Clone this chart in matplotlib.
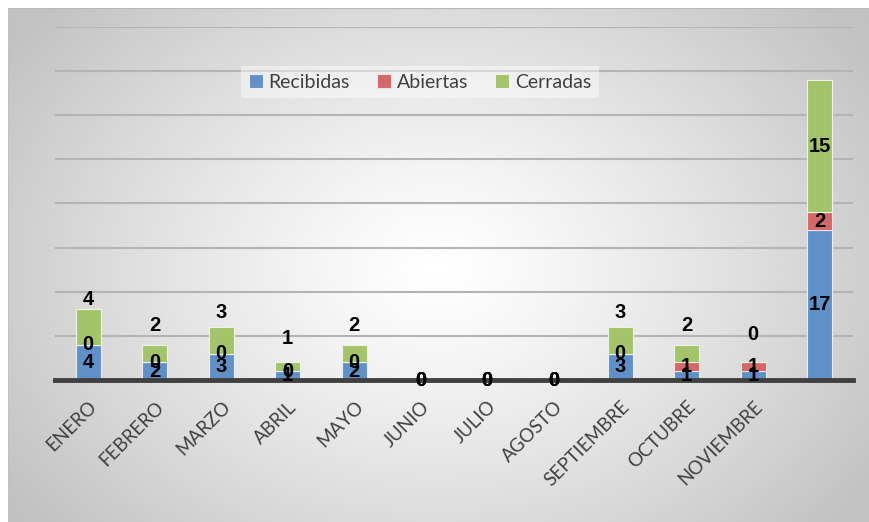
import numpy as np
import matplotlib
matplotlib.use("Agg")
import matplotlib.pyplot as plt

plt.rcParams['font.family'] = ['Lato', 'DejaVu Sans']

# data
meses = ["ENERO", "FEBRERO", "MARZO", "ABRIL", "MAYO", "JUNIO", "JULIO",
         "AGOSTO", "SEPTIEMBRE", "OCTUBRE", "NOVIEMBRE", ""]
recibidas = [4, 2, 3, 1, 2, 0, 0, 0, 3, 1, 1, 17]
abiertas = [0, 0, 0, 0, 0, 0, 0, 0, 0, 1, 1, 2]
cerradas = [4, 2, 3, 1, 2, 0, 0, 0, 3, 2, 0, 15]

colors = {"Recibidas": "#6090c8", "Abiertas": "#d26868", "Cerradas": "#a4c46c"}
W, H = 870, 522

fig = plt.figure(figsize=(W / 100, H / 100), dpi=100)
fig.patch.set_facecolor("white")

# radial gray background of the chart area
bg = fig.add_axes([8 / W, 0, (W - 8) / W, (H - 8) / H], zorder=-5)
gx, gy = np.meshgrid(np.linspace(0, W - 8, 400), np.linspace(0, H - 8, 240))
r = np.sqrt((gx - 430) ** 2 + ((gy - 260) * 1.3) ** 2) / 520
shade = 1.0 - 0.24 * np.clip(r, 0, 1) ** 1.2
bg.imshow(shade, cmap="gray", vmin=0, vmax=1, aspect="auto", extent=[0, 1, 0, 1],
          interpolation="bicubic")
bg.plot([0, 1], [1, 1], color="#b8b8b8", lw=1.5, transform=bg.transAxes)
bg.plot([0, 0], [0, 1], color="#c0c0c0", lw=1.2, transform=bg.transAxes)
bg.set_xlim(0, 1)
bg.set_ylim(0, 1)
bg.axis("off")

ax = fig.add_axes([55 / W, 1 - 380 / H, (853 - 55) / W, (380 - 27) / H])
ax.set_facecolor("none")
x = np.arange(len(meses))
width = 0.38

rec = np.array(recibidas)
abi = np.array(abiertas)
cer = np.array(cerradas)
ax.bar(x, rec, width, color=colors["Recibidas"], edgecolor="#e8eef6", lw=0.8, label="Recibidas", zorder=3)
ax.bar(x, abi, width, bottom=rec, color=colors["Abiertas"], edgecolor="#f2e0e0", lw=0.8, label="Abiertas", zorder=3)
ax.bar(x, cer, width, bottom=rec + abi, color=colors["Cerradas"], edgecolor="#eef4e4", lw=0.8, label="Cerradas", zorder=3)

lab = dict(fontsize=14.5, fontweight="bold", family="Liberation Sans", color="black",
           ha="center", va="center", zorder=5)
for i in x:
    ax.text(i, rec[i] / 2, str(rec[i]), **lab)
    ax.text(i, rec[i] + abi[i] / 2, str(abi[i]), **lab)
    yc = rec[i] + abi[i] + cer[i] / 2
    total = rec[i] + abi[i] + cer[i]
    off = 20 if (total > 0 and cer[i] < 10) else 0
    ax.annotate(str(cer[i]), (i, yc), xytext=(0, off), textcoords="offset points", **lab)

ax.set_xlim(-0.5, len(meses) - 0.5)
ax.set_ylim(0, 40)
ax.set_yticks(np.arange(5, 41, 5))
ax.yaxis.grid(True, color="#b4b4b4", lw=1.5, zorder=0)
ax.tick_params(axis="y", length=0, labelleft=False)
ax.tick_params(axis="x", length=0, pad=13)
ax.set_xticks(x)
ax.set_xticklabels(meses, rotation=45, ha="right", rotation_mode="anchor",
                   fontsize=13.5, color="#404040")
for s in ["top", "right", "left"]:
    ax.spines[s].set_visible(False)
ax.spines["bottom"].set_color("#404040")
ax.spines["bottom"].set_linewidth(3.5)
ax.spines["bottom"].set_zorder(4)

leg = ax.legend(loc="center", bbox_to_anchor=(420 / W, 1 - 82 / H), bbox_transform=fig.transFigure,
                ncol=3, frameon=True, fontsize=14, handlelength=0.7, handleheight=0.7,
                handletextpad=0.3, columnspacing=1.4, borderpad=0.4)
leg.get_frame().set_facecolor("white")
leg.get_frame().set_alpha(0.45)
leg.get_frame().set_edgecolor("none")
leg.get_frame().set_boxstyle("square", pad=0)
for t in leg.get_texts():
    t.set_color("#404040")

fig.savefig("out.png", dpi=100)
